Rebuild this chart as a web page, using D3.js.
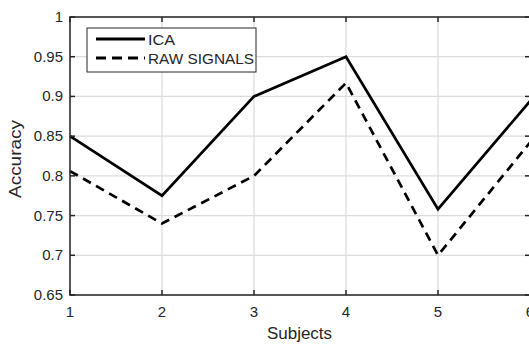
<!DOCTYPE html>
<html lang="en">
<head>
  <meta charset="UTF-8">
  <script src="https://d3js.org/d3.v7.min.js"></script>
  <title>Accuracy per subject</title>
  <style>
    body { margin: 0; background: #fff; }
    svg { display: block; font-family: "Liberation Sans", Arial, sans-serif; }
    .grid line { stroke: #dcdcdc; stroke-width: 1.3px; }
    .tick-label { font-size: 15px; fill: #262626; }
    .axis-title { font-size: 16px; fill: #262626; }
  </style>
</head>
<body>
  <svg id="chart" width="529" height="345"></svg>
  <script>
    const subjects = [1, 2, 3, 4, 5, 6];
    const icaValues = [0.85, 0.775, 0.9, 0.95, 0.758, 0.894];
    const rawValues = [0.806, 0.74, 0.8, 0.917, 0.70, 0.842];
    const yTicks = [0.65, 0.7, 0.75, 0.8, 0.85, 0.9, 0.95, 1];
    const yTickLabels = ["0.65", "0.7", "0.75", "0.8", "0.85", "0.9", "0.95", "1"];

    const svg = d3.select("#chart");
    const plotL = 70, plotR = 530, plotT = 17, plotB = 295;
    const axisColor = "#262626";

    const x = d3.scaleLinear().domain([1, 6]).range([plotL, plotR]);
    const y = d3.scaleLinear().domain([0.65, 1]).range([plotB, plotT]);

    // grid
    const grid = svg.append("g").attr("class", "grid");
    grid.selectAll(".gx").data(subjects).enter().append("line")
      .attr("x1", d => x(d)).attr("x2", d => x(d))
      .attr("y1", plotT).attr("y2", plotB);
    grid.selectAll(".gy").data(yTicks).enter().append("line")
      .attr("x1", plotL).attr("x2", plotR)
      .attr("y1", d => y(d)).attr("y2", d => y(d));

    // lines
    const line = d3.line().x(d => x(d[0])).y(d => y(d[1]));
    svg.append("path")
      .datum(subjects.map((s, i) => [s, rawValues[i]]))
      .attr("d", line)
      .attr("fill", "none").attr("stroke", "#000")
      .attr("stroke-width", 2.7).attr("stroke-dasharray", "9,6");
    svg.append("path")
      .datum(subjects.map((s, i) => [s, icaValues[i]]))
      .attr("d", line)
      .attr("fill", "none").attr("stroke", "#000")
      .attr("stroke-width", 2.7);

    // axes with inward ticks
    const tickLen = 5;
    const ax = svg.append("g").attr("stroke", axisColor).attr("stroke-width", 1.5);
    ax.append("rect").attr("x", plotL).attr("y", plotT)
      .attr("width", plotR - plotL).attr("height", plotB - plotT)
      .attr("fill", "none");
    subjects.forEach(s => {
      ax.append("line").attr("x1", x(s)).attr("x2", x(s)).attr("y1", plotB).attr("y2", plotB - tickLen);
      ax.append("line").attr("x1", x(s)).attr("x2", x(s)).attr("y1", plotT).attr("y2", plotT + tickLen);
    });
    yTicks.forEach(t => {
      ax.append("line").attr("x1", plotL).attr("x2", plotL + tickLen).attr("y1", y(t)).attr("y2", y(t));
      ax.append("line").attr("x1", plotR).attr("x2", plotR - tickLen).attr("y1", y(t)).attr("y2", y(t));
    });

    // tick labels
    svg.selectAll(".xl").data(subjects).enter().append("text")
      .attr("class", "tick-label")
      .attr("x", d => x(d)).attr("y", plotB + 22)
      .attr("text-anchor", "middle")
      .text(d => d);
    svg.selectAll(".yl").data(yTicks).enter().append("text")
      .attr("class", "tick-label")
      .attr("x", plotL - 7).attr("y", d => y(d) + 5)
      .attr("text-anchor", "end")
      .text((d, i) => yTickLabels[i]);

    // axis titles
    svg.append("text").attr("class", "axis-title")
      .attr("x", 267).attr("y", 339)
      .attr("textLength", 65).attr("lengthAdjust", "spacingAndGlyphs")
      .text("Subjects");
    svg.append("text").attr("class", "axis-title")
      .attr("transform", "translate(21,198) rotate(-90)")
      .attr("textLength", 78).attr("lengthAdjust", "spacingAndGlyphs")
      .text("Accuracy");

    // legend
    const lg = svg.append("g");
    lg.append("rect").attr("x", 87).attr("y", 28).attr("width", 169).attr("height", 44)
      .attr("fill", "#fff").attr("stroke", axisColor).attr("stroke-width", 1);
    const items = [
      { name: "ICA", dash: null, yy: 39, len: 27 },
      { name: "RAW SIGNALS", dash: "10,6", yy: 58, len: 106 }
    ];
    items.forEach(it => {
      const l = lg.append("line").attr("x1", 96).attr("x2", 145)
        .attr("y1", it.yy).attr("y2", it.yy)
        .attr("stroke", "#000").attr("stroke-width", 3);
      if (it.dash) l.attr("stroke-dasharray", it.dash);
      lg.append("text").attr("class", "tick-label")
        .attr("x", 148).attr("y", it.yy + 5.5)
        .attr("textLength", it.len).attr("lengthAdjust", "spacingAndGlyphs")
        .text(it.name);
    });
  </script>
</body>
</html>
